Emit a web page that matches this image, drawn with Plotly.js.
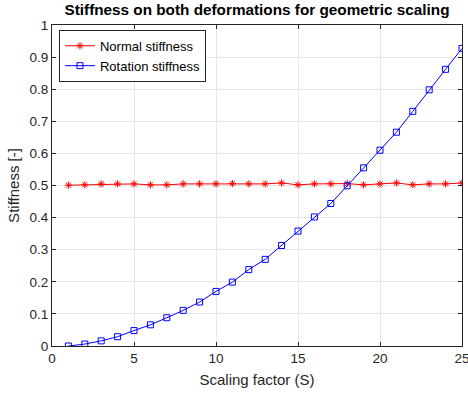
<!DOCTYPE html>
<html><head><meta charset="utf-8">
<script src="https://cdn.plot.ly/plotly-3.0.1.min.js"></script>
<style>html,body{margin:0;padding:0;background:#fff}#chart{width:468px;height:394px}</style>
</head><body><div id="chart"></div>
<script>
const scaling = [1,2,3,4,5,6,7,8,9,10,11,12,13,14,15,16,17,18,19,20,21,22,23,24,25];
const normalStiffness = [0.501,0.502,0.505,0.505,0.505,0.502,0.502,0.505,0.505,0.505,0.506,0.505,0.505,0.508,0.502,0.505,0.505,0.506,0.502,0.505,0.508,0.502,0.505,0.505,0.508];
const rotationStiffness = [0.0,0.006,0.016,0.029,0.048,0.066,0.088,0.111,0.137,0.170,0.199,0.238,0.270,0.313,0.358,0.402,0.444,0.499,0.555,0.610,0.666,0.731,0.798,0.862,0.927];
const xTicks = [0,5,10,15,20,25];
const yTicks = [0,0.1,0.2,0.3,0.4,0.5,0.6,0.7,0.8,0.9,1];

const font = "Liberation Sans, Arial, sans-serif";
const traces = [
  {x: scaling, y: normalStiffness, name: 'Normal stiffness', type: 'scatter', mode: 'lines+markers',
   line: {color: '#ff0000', width: 1}, marker: {symbol: 'asterisk-open', size: 6, color: '#ff0000', line: {color: '#ff0000', width: 1}}},
  {x: scaling, y: rotationStiffness, name: 'Rotation stiffness', type: 'scatter', mode: 'lines+markers',
   line: {color: '#0000ff', width: 1}, marker: {symbol: 'square-open', size: 6, color: '#0000ff', line: {color: '#0000ff', width: 1}}}
];
const axisCommon = {
  showline: true, mirror: 'ticks', linecolor: '#262626', linewidth: 1,
  ticks: 'inside', ticklen: 4, tickcolor: '#262626',
  showgrid: true, gridcolor: '#e6e6e6', gridwidth: 1, zeroline: false,
  tickfont: {family: font, size: 13.5, color: '#262626'}
};
const layout = {
  width: 468, height: 394,
  margin: {l: 52, r: 6, t: 25, b: 48},
  paper_bgcolor: '#ffffff', plot_bgcolor: '#ffffff',
  title: {text: '<b>Stiffness on both deformations for geometric scaling</b>', xref: 'paper', x: 0.5, xanchor: 'center', y: 0.988, yanchor: 'top',
          font: {family: font, size: 15.3, color: '#000000'}},
  xaxis: Object.assign({}, axisCommon, {range: [0, 25], tickvals: xTicks, ticktext: xTicks.map(String), ticklabeloverflow: 'allow',
          title: {text: 'Scaling factor (S)', font: {family: font, size: 15, color: '#262626'}, standoff: 9}}),
  yaxis: Object.assign({}, axisCommon, {range: [0, 1], tickvals: yTicks, ticktext: yTicks.map(String),
          title: {text: 'Stiffness [-]', font: {family: font, size: 15, color: '#262626'}, standoff: 6}}),
  showlegend: true,
  legend: {x: 0.017, y: 0.985, xanchor: 'left', yanchor: 'top', bgcolor: '#ffffff', bordercolor: '#262626', borderwidth: 1,
           font: {family: font, size: 13, color: '#000000'}, tracegroupgap: 0, itemwidth: 30}
};
Plotly.newPlot('chart', traces, layout, {staticPlot: true, displayModeBar: false});
</script>
</body></html>
